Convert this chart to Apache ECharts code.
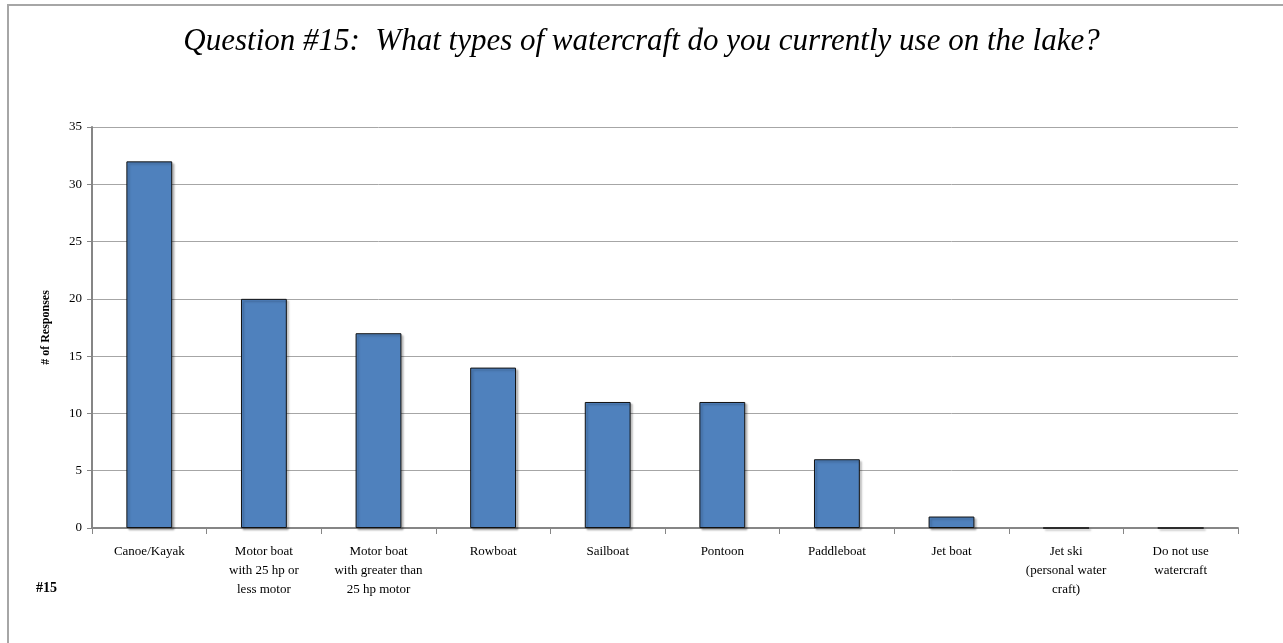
<!DOCTYPE html>
<html>
<head>
<meta charset="utf-8">
<script src="https://cdn.jsdelivr.net/npm/echarts@6/dist/echarts.min.js"></script>
<style>
  html, body { margin: 0; padding: 0; background: #fff; }
  #chart { width: 1283px; height: 643px; }
</style>
</head>
<body>
<div id="chart"></div>
<script>
var categories = [
    'Canoe/Kayak',
    'Motor boat\nwith 25 hp or\nless motor',
    'Motor boat\nwith greater than\n25 hp motor',
    'Rowboat',
    'Sailboat',
    'Pontoon',
    'Paddleboat',
    'Jet boat',
    'Jet ski\n(personal water\ncraft)',
    'Do not use\nwatercraft'
];
var responses = [32, 20, 17, 14, 11, 11, 6, 1, 0, 0];

var serif = '"Liberation Serif", "DejaVu Serif", serif';

var myChart = echarts.init(document.getElementById('chart'));

var option = {
    animation: false,
    backgroundColor: '#fff',
    title: {
        text: 'Question #15:  What types of watercraft do you currently use on the lake?',
        left: 'center',
        top: 21,
        textStyle: {
            fontFamily: serif,
            fontStyle: 'italic',
            fontWeight: 'normal',
            fontSize: 31,
            color: '#000'
        }
    },
    graphic: [
        {
            type: 'rect',
            shape: { x: 8, y: 5, width: 1300, height: 700 },
            style: { fill: 'none', stroke: '#a6a6a6', lineWidth: 2 }
        },
        {
            type: 'text',
            left: 36,
            top: 581,
            style: {
                text: '#15',
                font: 'bold 14px ' + serif,
                fill: '#000'
            }
        }
    ],
    grid: {
        left: 92,
        right: 45,
        top: 127,
        bottom: 115
    },
    xAxis: {
        type: 'category',
        data: categories,
        axisLine: { lineStyle: { color: '#868686', width: 2 } },
        axisTick: { show: true, length: 6, lineStyle: { color: '#868686' } },
        axisLabel: {
            interval: 0,
            margin: 14,
            fontFamily: serif,
            fontSize: 13,
            lineHeight: 19,
            color: '#000'
        }
    },
    yAxis: {
        type: 'value',
        min: 0,
        max: 35,
        interval: 5,
        name: '# of Responses',
        nameLocation: 'middle',
        nameGap: 40,
        nameTextStyle: {
            fontFamily: serif,
            fontWeight: 'bold',
            fontSize: 12,
            color: '#000'
        },
        axisLine: { show: true, lineStyle: { color: '#868686', width: 2 } },
        axisTick: { show: true, length: 5, lineStyle: { color: '#868686' } },
        axisLabel: {
            fontFamily: serif,
            fontSize: 13,
            color: '#000',
            margin: 10
        },
        splitLine: { lineStyle: { color: '#a6a6a6', width: 1 } }
    },
    series: [
        {
            type: 'bar',
            data: responses,
            barWidth: '40%',
            itemStyle: {
                color: '#4f81bd',
                borderColor: '#111',
                borderWidth: 1,
                shadowColor: 'rgba(0,0,0,0.25)',
                shadowOffsetX: 2,
                shadowOffsetY: 2,
                shadowBlur: 2
            }
        }
    ]
};

myChart.setOption(option);
</script>
</body>
</html>
